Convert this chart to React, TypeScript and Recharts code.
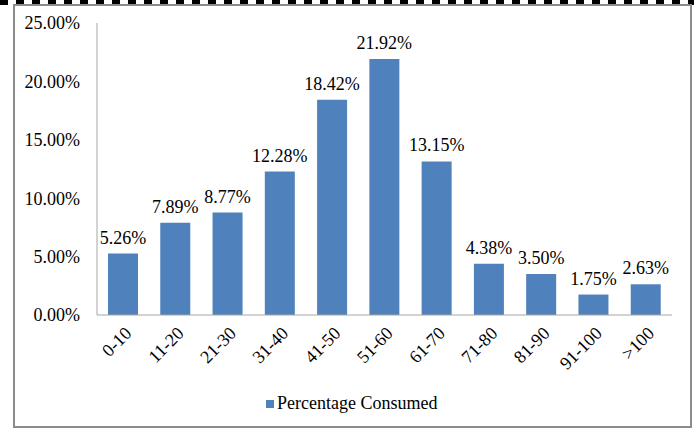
import React from 'react';
import { BarChart, Bar, XAxis, YAxis, Legend, LabelList } from 'recharts';

const categories = ['0-10', '11-20', '21-30', '31-40', '41-50', '51-60', '61-70', '71-80', '81-90', '91-100', '>100'];
const consumed = [5.26, 7.89, 8.77, 12.28, 18.42, 21.92, 13.15, 4.38, 3.5, 1.75, 2.63];
const yTicks = [0, 5, 10, 15, 20, 25];

const data = categories.map((name, i) => ({ name, 'Percentage Consumed': consumed[i] }));

const FONT = 'Liberation Serif';
const BLUE = '#4F81BD';

const pct = (v: number) => `${Number(v).toFixed(2)}%`;

const RotatedTick = (props: any) => {
  const { x, y, payload } = props;
  return (
    <g transform={`translate(${x + 5},${y + 15}) rotate(-45)`}>
      <text textAnchor="end" dy="0.35em" style={{ fontFamily: FONT, fontSize: 18 }} fill="#000">
        {payload.value}
      </text>
    </g>
  );
};

const LegendBox = () => (
  <div style={{ display: 'flex', alignItems: 'center', fontFamily: FONT, fontSize: 18, color: '#000' }}>
    <span style={{ width: 8, height: 8, background: BLUE, display: 'inline-block', marginRight: 3 }} />
    <span>Percentage Consumed</span>
  </div>
);

const App: React.FC = () => {
  return (
    <div style={{ position: 'absolute', left: 0, top: 0, width: 694, height: 430, background: '#fff', fontFamily: FONT }}>
      <div
        style={{
          position: 'absolute', left: 0, top: 0, width: 694, height: 5,
          background: 'repeating-linear-gradient(90deg, #000 0 8px, #fff 8px 16px)',
        }}
      />
      <div
        style={{
          position: 'absolute', left: 13, top: 4, width: 675, height: 420,
          border: '2px solid #8c8c8c',
        }}
      />
      <div style={{ position: 'absolute', left: 0, top: 0 }}>
        <BarChart width={694} height={430} data={data} margin={{ top: 23, right: 22, left: 0, bottom: 12 }} barSize={30}>
          <XAxis
            dataKey="name"
            interval={0}
            height={70}
            tickLine={false}
            tickSize={0}
            tickMargin={0}
            axisLine={{ stroke: '#a6a6a6' }}
            tick={<RotatedTick />}
          />
          <YAxis
            width={97}
            domain={[0, 25]}
            ticks={yTicks}
            tickFormatter={pct}
            tickLine={false}
            tickSize={0}
            tickMargin={17}
            axisLine={{ stroke: '#a6a6a6' }}
            tick={{ style: { fontFamily: FONT, fontSize: 18 }, fill: '#000' }}
          />
          <Legend
            verticalAlign="bottom"
            height={33}
            content={<LegendBox />}
            wrapperStyle={{ left: 266, width: 200, top: 393 }}
          />
          <Bar dataKey="Percentage Consumed" fill={BLUE} isAnimationActive={false}>
            <LabelList
              dataKey="Percentage Consumed"
              position="top"
              offset={10}
              formatter={(v: any) => pct(v)}
              style={{ fontFamily: FONT, fontSize: 18, fill: '#000' }}
            />
          </Bar>
        </BarChart>
      </div>
    </div>
  );
};

export default App;
